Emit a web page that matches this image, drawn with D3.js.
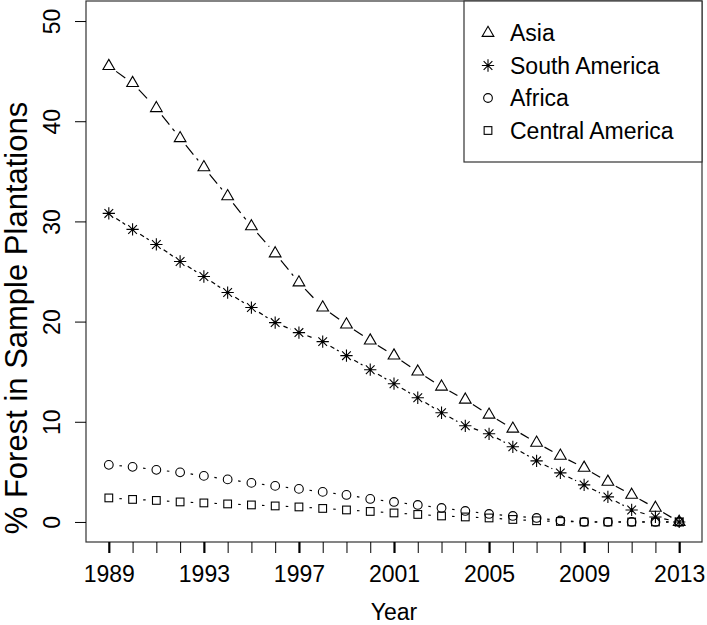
<!DOCTYPE html>
<html>
<head>
<meta charset="utf-8">
<script src="https://cdn.jsdelivr.net/npm/d3@7"></script>
<style>
  html, body { margin: 0; padding: 0; background: #fff; }
  svg { display: block; font-family: "Liberation Sans", Arial, Helvetica, sans-serif; }
</style>
</head>
<body>
<svg id="chart" width="707" height="625"></svg>
<script>
// ---- data ----
const years = [1989, 1990, 1991, 1992, 1993, 1994, 1995, 1996, 1997, 1998, 1999, 2000,
  2001, 2002, 2003, 2004, 2005, 2006, 2007, 2008, 2009, 2010, 2011, 2012, 2013];
const asia = [45.5, 43.8, 41.3, 38.3, 35.4, 32.5, 29.5, 26.8, 23.9, 21.4, 19.7, 18.1,
  16.6, 15.0, 13.5, 12.2, 10.7, 9.3, 7.9, 6.6, 5.4, 4.0, 2.7, 1.4, 0];
const southAmerica = [30.8, 29.2, 27.7, 26.0, 24.5, 22.9, 21.4, 19.9, 18.9, 18.0, 16.6, 15.2,
  13.8, 12.4, 10.9, 9.6, 8.8, 7.5, 6.1, 4.9, 3.7, 2.5, 1.2, 0.5, 0];
const africa = [5.7, 5.5, 5.2, 4.95, 4.6, 4.25, 3.9, 3.6, 3.3, 3.0, 2.7, 2.3,
  2.0, 1.7, 1.4, 1.1, 0.8, 0.6, 0.4, 0.15, 0, 0, 0, 0, 0];
const centralAmerica = [2.4, 2.25, 2.15, 2.0, 1.9, 1.8, 1.7, 1.6, 1.5, 1.35, 1.2, 1.05,
  0.9, 0.75, 0.6, 0.5, 0.4, 0.25, 0.12, 0.05, 0, 0, 0, 0, 0];
const seriesNames = ["Asia", "South America", "Africa", "Central America"];
const xTickLabels = [1989, 1993, 1997, 2001, 2005, 2009, 2013];
const yTicks = [0, 10, 20, 30, 40, 50];
const xTitle = "Year";
const yTitle = "% Forest in Sample Plantations";

// ---- layout ----
const svg = d3.select("#chart");
const box = { left: 86, right: 702, top: 1, bottom: 542 };
const x = d3.scaleLinear().domain([1988.04, 2013.96]).range([box.left, box.right]);
const y = d3.scaleLinear().domain([-2, 52]).range([box.bottom, box.top]);

const styles = {
  "Asia": { dash: "12,5", offset: 0, shape: "triangle" },
  "South America": { dash: "4.5,3", offset: 0, shape: "star" },
  "Africa": { dash: "2.5,6", offset: 6.9, shape: "circle" },
  "Central America": { dash: "2.5,6", offset: 6.9, shape: "square" }
};
const seriesValues = [asia, southAmerica, africa, centralAmerica];

function drawMarker(g, shape, cx, cy) {
  const s = 11.6;
  if (shape === "triangle") {
    const r = 0.583 * s, xc = 0.866 * r, yc = 0.5 * r;
    g.append("path")
      .attr("d", `M${cx},${cy - r}L${cx + xc},${cy + yc}L${cx - xc},${cy + yc}Z`)
      .attr("fill", "none").attr("stroke", "#000").attr("stroke-width", 1.1);
  } else if (shape === "circle") {
    g.append("circle").attr("cx", cx).attr("cy", cy).attr("r", 0.375 * s)
      .attr("fill", "none").attr("stroke", "#000").attr("stroke-width", 1.1);
  } else if (shape === "square") {
    const h = 0.375 * s * 0.886;
    g.append("rect").attr("x", cx - h).attr("y", cy - h).attr("width", 2 * h).attr("height", 2 * h)
      .attr("fill", "none").attr("stroke", "#000").attr("stroke-width", 1.1);
  } else if (shape === "star") {
    const p = Math.SQRT2 * 0.375 * s, d = 0.375 * s;
    g.append("path")
      .attr("d", `M${cx - p},${cy}L${cx + p},${cy}M${cx},${cy - p}L${cx},${cy + p}` +
        `M${cx - d},${cy - d}L${cx + d},${cy + d}M${cx - d},${cy + d}L${cx + d},${cy - d}`)
      .attr("fill", "none").attr("stroke", "#000").attr("stroke-width", 1.1);
  }
}

// ---- series ----
const gap = 9;
seriesNames.forEach((name, si) => {
  const vals = seriesValues[si];
  const st = styles[name];
  const g = svg.append("g");
  for (let i = 0; i < years.length - 1; i++) {
    const x0 = x(years[i]), y0 = y(vals[i]), x1 = x(years[i + 1]), y1 = y(vals[i + 1]);
    const len = Math.hypot(x1 - x0, y1 - y0);
    if (len <= 2 * gap) continue;
    const ux = (x1 - x0) / len, uy = (y1 - y0) / len;
    g.append("line")
      .attr("x1", x0 + ux * gap).attr("y1", y0 + uy * gap)
      .attr("x2", x1 - ux * gap).attr("y2", y1 - uy * gap)
      .attr("stroke", "#000").attr("stroke-width", 1.2)
      .attr("stroke-dasharray", st.dash).attr("stroke-dashoffset", st.offset);
  }
  years.forEach((yr, i) => drawMarker(g, st.shape, x(yr), y(vals[i])));
});

// ---- box ----
svg.append("rect").attr("x", box.left).attr("y", box.top)
  .attr("width", box.right - box.left).attr("height", box.bottom - box.top)
  .attr("fill", "none").attr("stroke", "#333").attr("stroke-width", 1.2);

// ---- x axis ----
const xAxis = svg.append("g").attr("transform", `translate(0,${box.bottom})`)
  .call(d3.axisBottom(x).tickValues(years).tickSize(11).tickSizeOuter(0)
    .tickFormat(d => xTickLabels.includes(d) ? String(d) : ""));
xAxis.select(".domain").remove();
xAxis.selectAll(".tick line")
  .attr("stroke", "#000")
  .attr("stroke-width", d => xTickLabels.includes(d) ? 2.2 : 1);
xAxis.selectAll(".tick text")
  .attr("y", 40).attr("dy", 0)
  .attr("font-size", 23).attr("fill", "#000")
  .attr("font-family", "Liberation Sans, Arial, sans-serif");

// ---- y axis ----
const yAxis = svg.append("g").attr("transform", `translate(${box.left},0)`)
  .call(d3.axisLeft(y).tickValues(yTicks).tickSize(11).tickSizeOuter(0));
yAxis.select(".domain").remove();
yAxis.selectAll(".tick line").attr("stroke", "#000").attr("stroke-width", 1);
yAxis.selectAll(".tick text")
  .attr("x", 0).attr("y", 0).attr("dy", 0)
  .attr("transform", "translate(-26,0) rotate(-90)")
  .attr("text-anchor", "middle")
  .attr("font-size", 23).attr("fill", "#000")
  .attr("font-family", "Liberation Sans, Arial, sans-serif");

// ---- titles ----
svg.append("text")
  .attr("x", (box.left + box.right) / 2).attr("y", 620)
  .attr("text-anchor", "middle").attr("font-size", 23).attr("fill", "#000")
  .text(xTitle);
svg.append("text")
  .attr("transform", `translate(27,318) rotate(-90)`)
  .attr("text-anchor", "middle").attr("font-size", 31).attr("fill", "#000")
  .text(yTitle);

// ---- legend ----
const lg = svg.append("g");
lg.append("rect").attr("x", 464).attr("y", box.top).attr("width", box.right - 464).attr("height", 161)
  .attr("fill", "#fff").attr("stroke", "#333").attr("stroke-width", 1.2);
seriesNames.forEach((name, i) => {
  const cy = 33 + i * 32.5;
  drawMarker(lg, styles[name].shape, 488, cy);
  lg.append("text").attr("x", 510).attr("y", cy).attr("dy", "0.36em")
    .attr("font-size", 23).attr("fill", "#000").text(name);
});
</script>
</body>
</html>
